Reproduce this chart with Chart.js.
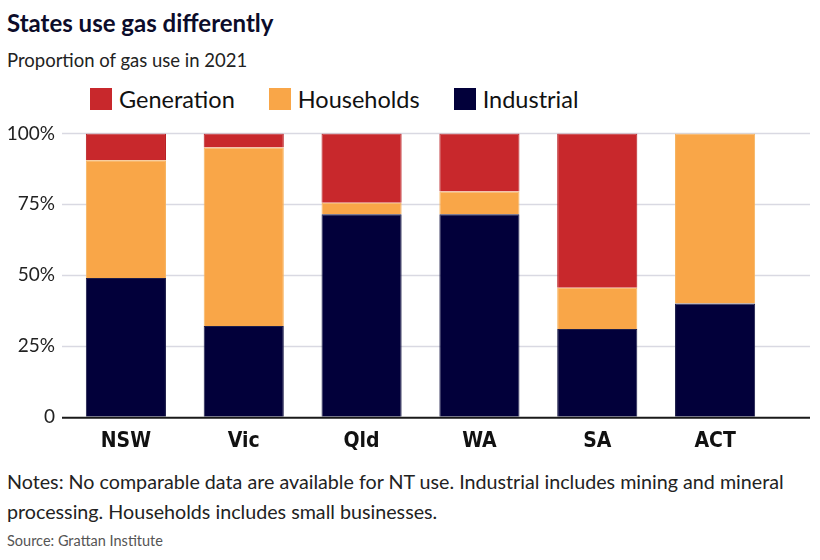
<!DOCTYPE html>
<html>
<head>
<meta charset="utf-8">
<script src="https://cdn.jsdelivr.net/npm/chart.js@4.4.1/dist/chart.umd.min.js"></script>
<style>
  html, body { margin: 0; padding: 0; background: #fff; }
  body { width: 820px; height: 560px; position: relative; overflow: hidden;
         font-family: Lato, "DejaVu Sans Condensed", sans-serif; color: #111; }
  #title { position: absolute; left: 7px; top: 8px; font: bold 24px Lato, sans-serif; color: #0c0c2a; }
  #subtitle { position: absolute; left: 7px; top: 49px; font-size: 18.5px; color: #222; }
  #legend { position: absolute; left: 90px; top: 85px; display: flex; font-size: 23.5px; color: #111; }
  #legend .item { display: flex; align-items: center; margin-right: 34px; }
  #legend .box { width: 22px; height: 22px; margin-right: 7px; }
  #wrap { position: absolute; left: 0; top: 110px; width: 820px; height: 356px; }
  #notes { position: absolute; left: 7px; top: 467px; width: 815px; font-size: 19.7px; line-height: 30px; color: #222; white-space: nowrap; }
  #source { position: absolute; left: 7px; top: 532px; font-size: 14.5px; color: #555; }
</style>
</head>
<body>
<div id="title">States use gas differently</div>
<div id="subtitle">Proportion of gas use in 2021</div>
<div id="legend"></div>
<div id="wrap"><canvas id="chart"></canvas></div>
<div id="notes">Notes: No comparable data are available for NT use. Industrial includes mining and mineral<br>processing. Households includes small businesses.</div>
<div id="source">Source: Grattan Institute</div>
<script>
// states on the x axis
const states = ["NSW", "Vic", "Qld", "WA", "SA", "ACT"];

// share of gas use, percent (stacked bottom to top: industrial, households, generation)
const industrial = [49, 32, 71.5, 71.5, 31, 40];
const households = [41.5, 63, 4, 8, 14.5, 60];
const generation = [9.5, 5, 24.5, 20.5, 54.5, 0];

const yTicks = [0, 25, 50, 75, 100];

const COLORS = {
    generation: "#c8282c",
    households: "#f9a648",
    industrial: "#02003a",
};

// grid lines and baseline run the full plot width, past the category area
const fullGrid = {
    id: "fullGrid",
    beforeDatasetsDraw(chart) {
        const ctx = chart.ctx;
        const y = chart.scales.y;
        ctx.save();
        ctx.strokeStyle = "#d9d9e2";
        ctx.lineWidth = 1.5;
        yTicks.forEach((v) => {
            if (v === 0) return;
            const py = Math.round(y.getPixelForValue(v)) + 0.5;
            ctx.beginPath();
            ctx.moveTo(62, py);
            ctx.lineTo(810, py);
            ctx.stroke();
        });
        ctx.restore();
    },
    afterDatasetsDraw(chart) {
        const ctx = chart.ctx;
        const py = chart.scales.y.getPixelForValue(0);
        ctx.save();
        ctx.strokeStyle = "#1a1a1a";
        ctx.lineWidth = 2;
        ctx.beginPath();
        ctx.moveTo(62, py + 1);
        ctx.lineTo(810, py + 1);
        ctx.stroke();
        ctx.restore();
    },
};

const datasets = [
    { label: "Industrial", data: industrial, backgroundColor: COLORS.industrial, borderColor: "#1e1e4a" },
    { label: "Households", data: households, backgroundColor: COLORS.households, borderColor: "#f6b35e" },
    { label: "Generation", data: generation, backgroundColor: COLORS.generation, borderColor: "#b81c20" },
];

const chart = new Chart(document.getElementById("chart"), {
    type: "bar",
    data: {
        labels: states,
        datasets: datasets.map((d) => Object.assign({
            borderWidth: 1,
            barPercentage: 0.68,
            categoryPercentage: 1,
        }, d)),
    },
    options: {
        responsive: true,
        maintainAspectRatio: false,
        animation: false,
        layout: { padding: { top: 7, right: 46, left: 0, bottom: 0 } },
        plugins: {
            legend: { display: false },
            tooltip: { enabled: false },
        },
        scales: {
            x: {
                stacked: true,
                grid: { display: false, drawTicks: false },
                border: { display: false },
                ticks: {
                    color: "#111",
                    padding: 12,
                    font: { family: "'DejaVu Sans Condensed', sans-serif", size: 21, weight: "bold" },
                },
            },
            y: {
                stacked: true,
                min: 0,
                max: 100,
                afterFit: (scale) => { scale.width = 67; },
                afterBuildTicks: (scale) => { scale.ticks = yTicks.map((v) => ({ value: v })); },
                grid: { display: false, drawTicks: false },
                border: { display: false },
                ticks: {
                    color: "#222",
                    padding: 12,
                    font: { family: "Lato, sans-serif", size: 19 },
                    callback: (v) => (v === 0 ? "0" : v + "%"),
                },
            },
        },
    },
    plugins: [fullGrid],
});

// legend in the reference's order
const legendOrder = ["Generation", "Households", "Industrial"];
const legendEl = document.getElementById("legend");
legendOrder.forEach((name) => {
    const ds = chart.data.datasets.find((d) => d.label === name);
    const item = document.createElement("div");
    item.className = "item";
    item.innerHTML = '<span class="box" style="background:' + ds.backgroundColor + '"></span><span>' + name + "</span>";
    legendEl.appendChild(item);
});
</script>
</body>
</html>
